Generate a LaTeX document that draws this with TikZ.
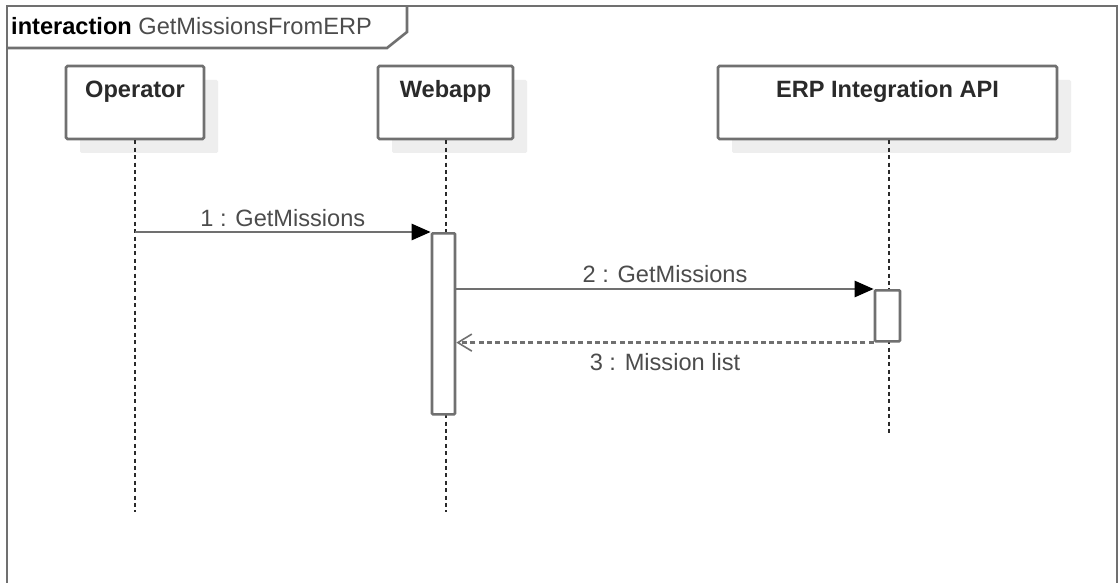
\documentclass[tikz,border=0pt]{standalone}
\usepackage{fontspec}
\setmainfont{Liberation Sans}
\usetikzlibrary{arrows.meta,shadows}

\definecolor{edge}{HTML}{707070}
\definecolor{shade}{HTML}{EEEEEE}
\definecolor{ink}{HTML}{2A2A2A}
\definecolor{msgink}{HTML}{4C4C4C}
\definecolor{lifeink}{HTML}{2A2A2A}

\tikzset{
  framepen/.style={draw=edge, line width=2.6pt},
  lifebox/.style={draw=edge, line width=2.7pt, fill=white, rounded corners=1.5pt,
    minimum height=73pt, inner sep=0pt,
    drop shadow={shadow xshift=14pt, shadow yshift=-14pt, fill=shade, opacity=1}},
  boxtext/.style={anchor=base, text=ink, font=\fontsize{23.6}{27}\selectfont\bfseries, inner sep=0pt},
  lifeline/.style={draw=lifeink, line width=1.5pt, dash pattern=on 4pt off 3.4pt},
  actbar/.style={draw=edge, line width=2.6pt, fill=white, rounded corners=1pt,
    inner sep=0pt, anchor=north},
  call/.style={draw=edge, line width=2.6pt,
    -{Triangle[length=19pt,width=16pt,color=black]}},
  reply/.style={draw=edge, line width=2.4pt, dash pattern=on 5pt off 3.3pt,
    -{Straight Barb[length=14pt,width=17pt,line width=1.6pt]}},
  msgtext/.style={anchor=base, text=msgink, font=\fontsize{23.6}{27}\selectfont, inner sep=0pt}
}

\begin{document}
\begin{tikzpicture}[x=1pt,y=-1pt]
\useasboundingbox (0,0) rectangle (1119,583);
\clip (0,0) rectangle (1119,583);
\fill[white] (0,0) rectangle (1119,583);

% interaction frame with its name tab
\draw[framepen] (7,600) -- (7,6) -- (1117,6) -- (1117,600);
\draw[framepen, line join=miter] (7,48) -- (387,48) -- (407,32) -- (407,6);
\node[anchor=base west, inner sep=0pt, font=\fontsize{23.6}{27}\selectfont] (title) at (11,35)
  {\textbf{\color{black}interaction} \color{msgink}GetMissionsFromERP};

% participants
\node[lifebox, minimum width=138pt] (op)  at (135,102.5) {};
\node[lifebox, minimum width=135pt] (web) at (445.5,102.5) {};
\node[lifebox, minimum width=339pt] (erp) at (887.5,102.5) {};
\node[boxtext] (opt)  at (135,97.5)   {Operator};
\node[boxtext] (webt) at (445.5,97.5) {Webapp};
\node[boxtext] (erpt) at (887.5,97.5) {ERP Integration API};

% lifelines
\coordinate (opend)  at (135,512);
\coordinate (webend) at (446,512);
\coordinate (erpend) at (889,436);
\draw[lifeline] (op.south -| opend) -- (opend);
\draw[lifeline] (web.south -| webend) -- (webend);
\draw[lifeline] (erp.south -| erpend) -- (erpend);

% activation bars
\node[actbar, minimum width=23pt, minimum height=181pt] (act1) at (443.5,232) {};
\node[actbar, minimum width=25pt, minimum height=51pt] (act2) at (887.5,289) {};

% messages
\draw[call] (opend |- act1.north) -- (act1.north west)
  node[msgtext, midway, yshift=6pt] (m1) {1 : GetMissions};
\draw[call] (act1.east |- act2.north) -- (act2.north west)
  node[msgtext, midway, yshift=7pt] (m2) {2 : GetMissions};
\draw[reply] (act2.south west) -- (act1.east |- act2.south)
  node[msgtext, midway, yshift=-28pt] (m3) {3 : Mission list};
\end{tikzpicture}
\end{document}
